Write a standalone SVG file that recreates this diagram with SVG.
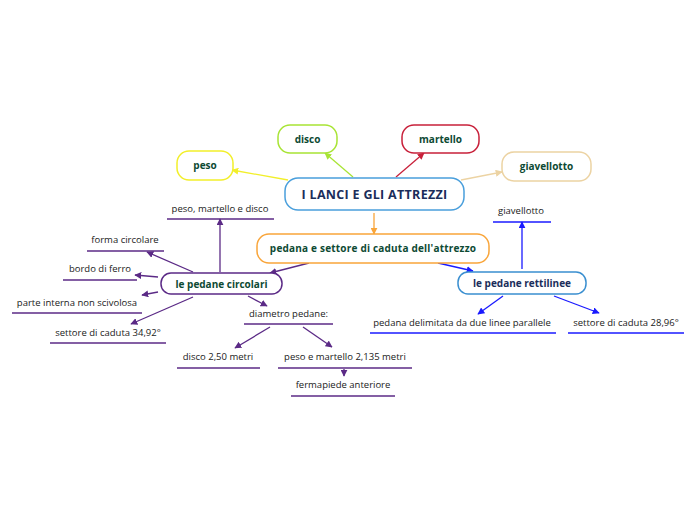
<svg xmlns="http://www.w3.org/2000/svg" width="696" height="520" viewBox="0 0 696 520">
<defs>
<marker id="aY" viewBox="0 0 10 10" refX="9" refY="5" markerWidth="7" markerHeight="7" orient="auto" markerUnits="userSpaceOnUse"><path d="M0,0 L10,5 L0,10 z" fill="#f2ef2a"/></marker>
<marker id="aG" viewBox="0 0 10 10" refX="9" refY="5" markerWidth="7" markerHeight="7" orient="auto" markerUnits="userSpaceOnUse"><path d="M0,0 L10,5 L0,10 z" fill="#a8e435"/></marker>
<marker id="aR" viewBox="0 0 10 10" refX="9" refY="5" markerWidth="7" markerHeight="7" orient="auto" markerUnits="userSpaceOnUse"><path d="M0,0 L10,5 L0,10 z" fill="#c8203a"/></marker>
<marker id="aT" viewBox="0 0 10 10" refX="9" refY="5" markerWidth="7" markerHeight="7" orient="auto" markerUnits="userSpaceOnUse"><path d="M0,0 L10,5 L0,10 z" fill="#ecd3a3"/></marker>
<marker id="aO" viewBox="0 0 10 10" refX="9" refY="5" markerWidth="7" markerHeight="7" orient="auto" markerUnits="userSpaceOnUse"><path d="M0,0 L10,5 L0,10 z" fill="#f9a53a"/></marker>
<marker id="aP" viewBox="0 0 10 10" refX="9" refY="5" markerWidth="7" markerHeight="7" orient="auto" markerUnits="userSpaceOnUse"><path d="M0,0 L10,5 L0,10 z" fill="#5b2a86"/></marker>
<marker id="aB" viewBox="0 0 10 10" refX="9" refY="5" markerWidth="7" markerHeight="7" orient="auto" markerUnits="userSpaceOnUse"><path d="M0,0 L10,5 L0,10 z" fill="#1a1aff"/></marker>
</defs>
<style>
.box{fill:#fff;stroke-width:1.5}
.t{font-family:"Open Sans","Noto Sans","DejaVu Sans",sans-serif;font-weight:bold;text-anchor:middle}
.l{font-family:"Open Sans","Noto Sans","DejaVu Sans",sans-serif;font-size:9.5px;fill:#1a1a1a;text-anchor:middle}
.c{fill:none;stroke-width:1.3}
.p{stroke:#5b2a86}
.b{stroke:#1a1aff}
.u{stroke-width:1.6;fill:none}
</style>
<rect width="696" height="520" fill="#fff"/>
<g id="connectors">
<line class="c" x1="288" y1="180" x2="232" y2="170" stroke="#f2ef2a" marker-end="url(#aY)"/>
<line class="c" x1="353" y1="177" x2="325" y2="153" stroke="#a8e435" marker-end="url(#aG)"/>
<line class="c" x1="396" y1="177" x2="424" y2="153" stroke="#c8203a" marker-end="url(#aR)"/>
<line class="c" x1="461" y1="180" x2="502" y2="172" stroke="#ecd3a3" marker-end="url(#aT)"/>
<line class="c" x1="374" y1="213" x2="374" y2="234" stroke="#f9a53a" marker-end="url(#aO)"/>
<line class="c p" x1="309" y1="263" x2="270" y2="273" marker-end="url(#aP)"/>
<line class="c b" x1="438" y1="263" x2="473" y2="271" marker-end="url(#aB)"/>
<line class="c p" x1="220" y1="272" x2="220" y2="219" marker-end="url(#aP)"/>
<line class="c p" x1="193" y1="272" x2="147" y2="252" marker-end="url(#aP)"/>
<line class="c p" x1="158" y1="277" x2="135" y2="275" marker-end="url(#aP)"/>
<line class="c p" x1="158" y1="292" x2="142" y2="295" marker-end="url(#aP)"/>
<line class="c p" x1="193" y1="297" x2="131" y2="324" marker-end="url(#aP)"/>
<line class="c p" x1="248" y1="296" x2="267" y2="306" marker-end="url(#aP)"/>
<line class="c p" x1="270" y1="327" x2="235" y2="348" marker-end="url(#aP)"/>
<line class="c p" x1="303" y1="327" x2="332" y2="347" marker-end="url(#aP)"/>
<line class="c p" x1="344" y1="369" x2="344" y2="376" marker-end="url(#aP)"/>
<line class="c b" x1="522" y1="269" x2="522" y2="222" marker-end="url(#aB)"/>
<line class="c b" x1="503" y1="296" x2="478" y2="314" marker-end="url(#aB)"/>
<line class="c b" x1="554" y1="296" x2="599" y2="313" marker-end="url(#aB)"/>
</g>
<g id="central">
<rect class="box" x="285" y="178" width="179" height="32" rx="13" stroke="#4a9fdc"/>
<text class="t" x="374.5" y="199" font-size="12.5" fill="#1a2d5a" letter-spacing="0.3">I LANCI E GLI ATTREZZI</text>
</g>
<g id="peso">
<rect class="box" x="177" y="151" width="56" height="29" rx="12" stroke="#f2ef2a"/>
<text class="t" x="205" y="169" font-size="10" fill="#0d4a33">peso</text>
</g>
<g id="disco">
<rect class="box" x="278" y="125" width="59" height="28" rx="12" stroke="#a8e435"/>
<text class="t" x="307.5" y="143" font-size="10" fill="#0d4a33">disco</text>
</g>
<g id="martello">
<rect class="box" x="402" y="125" width="77" height="28" rx="12" stroke="#c8203a"/>
<text class="t" x="440.5" y="143" font-size="10" fill="#0d4a33">martello</text>
</g>
<g id="giavellotto">
<rect class="box" x="502" y="152" width="89" height="29" rx="12" stroke="#ecd3a3"/>
<text class="t" x="546.5" y="170" font-size="10" fill="#0d4a33">giavellotto</text>
</g>
<g id="pedana">
<rect class="box" x="257" y="234" width="232" height="29" rx="12" stroke="#f9a53a"/>
<text class="t" x="373" y="252" font-size="10" fill="#0d4a33" letter-spacing="0.2">pedana e settore di caduta dell'attrezzo</text>
</g>
<g id="circolari">
<rect class="box" x="161" y="273" width="121" height="21" rx="10" stroke="#5b2a86"/>
<text class="t" x="221.5" y="287.5" font-size="10" fill="#0d4a33">le pedane circolari</text>
</g>
<g id="rettilinee">
<rect class="box" x="458" y="272" width="128" height="22" rx="10" stroke="#3a8fd0"/>
<text class="t" x="522" y="287" font-size="10" fill="#1a2d5a">le pedane rettilinee</text>
</g>
<g id="n-peso-martello-disco">
<text class="l" x="220" y="212">peso, martello e disco</text>
<line class="u p" x1="167" y1="219" x2="274" y2="219"/>
</g>
<g id="n-forma">
<text class="l" x="125" y="243">forma circolare</text>
<line class="u p" x1="87" y1="251" x2="164" y2="251"/>
</g>
<g id="n-bordo">
<text class="l" x="100" y="272">bordo di ferro</text>
<line class="u p" x1="63" y1="280" x2="137" y2="280"/>
</g>
<g id="n-parte">
<text class="l" x="77" y="306">parte interna non scivolosa</text>
<line class="u p" x1="12" y1="313" x2="142" y2="313"/>
</g>
<g id="n-settore34">
<text class="l" x="108" y="336">settore di caduta 34,92°</text>
<line class="u p" x1="50" y1="343" x2="166" y2="343"/>
</g>
<g id="n-diametro">
<text class="l" x="288.5" y="317">diametro pedane:</text>
<line class="u p" x1="244" y1="324" x2="333" y2="324"/>
</g>
<g id="n-disco250">
<text class="l" x="218" y="360">disco 2,50 metri</text>
<line class="u p" x1="177" y1="368" x2="260" y2="368"/>
</g>
<g id="n-peso2135">
<text class="l" x="345" y="360">peso e martello 2,135 metri</text>
<line class="u p" x1="278" y1="368" x2="412" y2="368"/>
</g>
<g id="n-fermapiede">
<text class="l" x="343" y="388">fermapiede anteriore</text>
<line class="u p" x1="291" y1="396" x2="395" y2="396"/>
</g>
<g id="n-giavellotto2">
<text class="l" x="521" y="214">giavellotto</text>
<line class="u b" x1="493" y1="222" x2="551" y2="222"/>
</g>
<g id="n-pedana-delimitata">
<text class="l" x="462" y="326">pedana delimitata da due linee parallele</text>
<line class="u b" x1="370" y1="333" x2="556" y2="333"/>
</g>
<g id="n-settore28">
<text class="l" x="626" y="326">settore di caduta 28,96°</text>
<line class="u b" x1="568" y1="333" x2="684" y2="333"/>
</g>
</svg>
